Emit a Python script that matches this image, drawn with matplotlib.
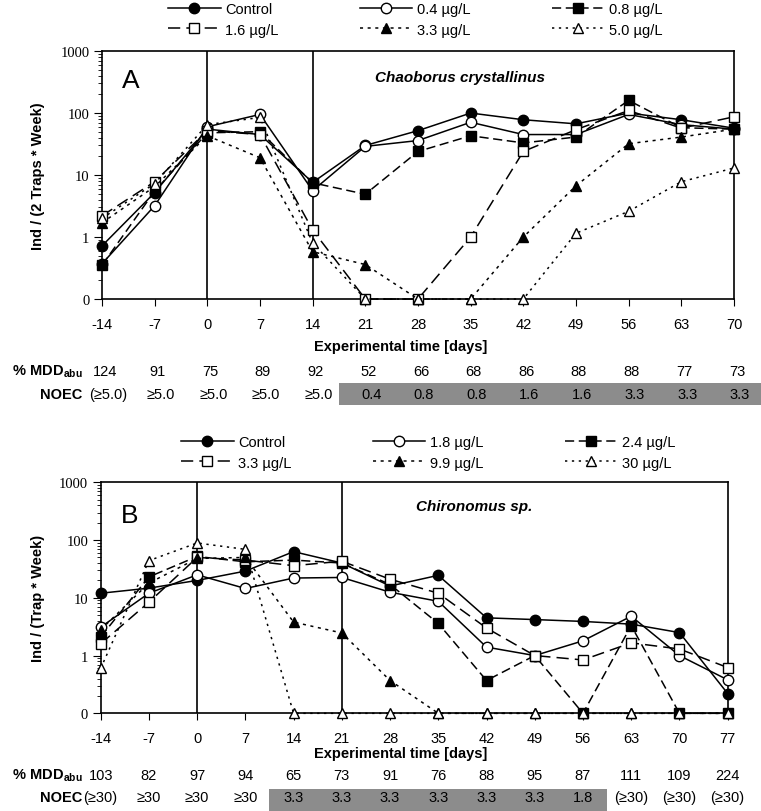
import numpy as np
import matplotlib
matplotlib.use('Agg')
import matplotlib.pyplot as plt
from matplotlib.lines import Line2D
from matplotlib.patches import Rectangle
from matplotlib.ticker import NullFormatter
import matplotlib.transforms as mtransforms

plt.rcParams['font.family'] = ['Liberation Sans', 'DejaVu Sans']
plt.rcParams['mathtext.fontset'] = 'custom'
plt.rcParams['mathtext.rm'] = 'Liberation Sans'
plt.rcParams['mathtext.bf'] = 'Liberation Sans:bold'
plt.rcParams['axes.unicode_minus'] = False

# panel A - Chaoborus crystallinus
days_a = [-14, -7, 0, 7, 14, 21, 28, 35, 42, 49, 56, 63, 70]
labels_a = ['Control', '0.4 µg/L', '0.8 µg/L', '1.6 µg/L', '3.3 µg/L', '5.0 µg/L']
ctrl_a = [0.72, 5.2, 55, 45, 7.6, 30, 52, 100, 78, 67, 100, 78, 57]
c04_a = [0.37, 3.2, 60, 95, 5.6, 29, 36, 71, 45, 45, 95, 65, 55]
c08_a = [0.35, 5.5, 48, 50, 7.5, 4.9, 24, 43, 33, 41, 160, 58, 55]
c16_a = [2.2, 7.8, 52, 45, 1.3, 0, 0, 1.0, 24, 54, 110, 57, 87]
c33_a = [1.7, 6.5, 43, 19, 0.58, 0.36, 0, 0, 1.0, 6.7, 32, 41, 55]
c50_a = [2.0, 7.3, 65, 85, 0.8, 0, 0, 0, 0, 1.15, 2.6, 7.8, 13]
mdd_a = ['124', '91', '75', '89', '92', '52', '66', '68', '86', '88', '88', '77', '73']
noec_a = ['(≥5.0)', '≥5.0', '≥5.0', '≥5.0', '≥5.0', '0.4', '0.8', '0.8', '1.6', '1.6', '3.3', '3.3', '3.3']

# panel B - Chironomus sp.
days_b = [-14, -7, 0, 7, 14, 21, 28, 35, 42, 49, 56, 63, 70, 77]
labels_b = ['Control', '1.8 µg/L', '2.4 µg/L', '3.3 µg/L', '9.9 µg/L', '30 µg/L']
ctrl_b = [12, 14.7, 20, 29, 63, 40, 16, 24.5, 4.5, 4.2, 3.9, 3.5, 2.5, 0.22]
c18_b = [3.1, 12, 25, 14.5, 22, 22.5, 12.5, 8.7, 1.4, 1.0, 1.8, 4.8, 1.0, 0.38]
c24_b = [2.1, 23, 52, 42, 45, 40, 17, 3.6, 0.37, 1.0, 0, 3.3, 0, 0]
c33_b = [1.6, 8.4, 50, 45, 36, 43, 21, 12, 3.0, 1.0, 0.84, 1.66, 1.3, 0.62]
c99_b = [2.8, 18, 48, 50, 3.8, 2.46, 0.37, 0, 0, 0, 0, 0, 0, 0]
c30_b = [0.6, 44, 89, 69, 0, 0, 0, 0, 0, 0, 0, 0, 0, 0]
mdd_b = ['103', '82', '97', '94', '65', '73', '91', '76', '88', '95', '87', '111', '109', '224']
noec_b = ['(≥30)', '≥30', '≥30', '≥30', '3.3', '3.3', '3.3', '3.3', '3.3', '3.3', '1.8', '(≥30)', '(≥30)', '(≥30)']

# line/marker looks for the six treatments
styles = [
    dict(ls='-', marker='o', mfc='black'),
    dict(ls='-', marker='o', mfc='white'),
    dict(ls=(0, (6, 3)), marker='s', mfc='black'),
    dict(ls=(0, (8, 4)), marker='s', mfc='white'),
    dict(ls=(0, (2, 3)), marker='^', mfc='black'),
    dict(ls=(0, (1.5, 3)), marker='^', mfc='white'),
]

fig = plt.figure(figsize=(7.61, 8.12), dpi=100)
ax_a = fig.add_axes([0.1340, 0.6305, 0.8305, 0.3054])
ax_b = fig.add_axes([0.1323, 0.1203, 0.8239, 0.2845])


def draw_panel(ax, days, series, labels, vlines, letter, species, sp_x, let_y, ylabel):
    for vx in vlines:
        ax.axvline(vx, color='black', lw=1.2, zorder=1)
    handles = []
    for vals, lab, st in zip(series, labels, styles):
        y = np.array(vals, dtype=float)
        y[y == 0] = 0.1  # zero is drawn on the bottom of the log axis
        ax.plot(days, y, color='black', lw=1.1, ms=7.5, mec='black', mew=1.0,
                clip_on=False, zorder=3, **st)
        handles.append(Line2D([], [], color='black', lw=1.1, ms=7.5, mec='black',
                              mew=1.0, label=lab, **st))
    ax.set_yscale('log')
    ax.set_ylim(0.1, 1000)
    ax.set_xlim(days[0], days[-1])
    ax.set_yticks([0.1, 1, 10, 100, 1000], ['0', '1', '10', '100', '1000'],
                  family='Liberation Serif', fontsize=10.5)
    ax.yaxis.set_minor_formatter(NullFormatter())
    ax.set_xticks(days)
    ax.tick_params(axis='x', length=5, pad=8, labelsize=10.5)
    ax.tick_params(axis='y', which='major', length=6, pad=3)
    ax.tick_params(axis='y', which='minor', length=3)
    for s in ax.spines.values():
        s.set_linewidth(1.2)
    ax.text(0.032, let_y, letter, transform=ax.transAxes, fontsize=19,
            ha='left', va='center')
    ax.text(sp_x, 0.897, species, transform=ax.transAxes, fontsize=11,
            fontweight='bold', style='italic', ha='left', va='center')
    ax.set_ylabel(ylabel, fontsize=10.5, fontweight='bold')
    return handles


def draw_table(ax, days, mdd, noec, y_lab, y_mdd, y_noec, box_from, box_to, y_box, shift):
    tr = mtransforms.blended_transform_factory(ax.transData, fig.transFigure)
    fig.text(0.527, y_lab, 'Experimental time [days]', fontsize=10.5,
             fontweight='bold', ha='center', va='center')
    fig.text(0.109, y_mdd, r'$\mathbf{\%\ MDD_{abu}}$', fontsize=10.5,
             ha='right', va='center')
    fig.text(0.108, y_noec, 'NOEC', fontsize=10.5, fontweight='bold',
             ha='right', va='center')
    for d, m, n in zip(days, mdd, noec):
        ax.text(d + shift / 2, y_mdd, m, transform=tr, fontsize=10.5, ha='center',
                va='center', clip_on=False)
        ax.text(d + shift, y_noec, n, transform=tr, fontsize=10.5, ha='center',
                va='center', clip_on=False)
    ax.add_patch(Rectangle((box_from, y_box), box_to - box_from, 0.027,
                           transform=tr, facecolor='#8c8c8c', edgecolor='none',
                           clip_on=False, zorder=0))


h_a = draw_panel(ax_a, days_a, [ctrl_a, c04_a, c08_a, c16_a, c33_a, c50_a], labels_a,
                 [0, 14], 'A', 'Chaoborus crystallinus', 0.432, 0.883,
                 'Ind / (2 Traps * Week)')
h_b = draw_panel(ax_b, days_b, [ctrl_b, c18_b, c24_b, c33_b, c99_b, c30_b], labels_b,
                 [0, 21], 'B', 'Chironomus sp.', 0.503, 0.858,
                 'Ind / (Trap * Week)')
ax_a.yaxis.set_label_coords(-0.090, 0.5)
ax_b.yaxis.set_label_coords(-0.089, 0.5)

draw_table(ax_a, days_a, mdd_a, noec_a, 0.5727, 0.5422, 0.5135, 17.5, 73.7, 0.500, 0.8)
draw_table(ax_b, days_b, mdd_b, noec_b, 0.0714, 0.0443, 0.0172, 10.5, 59.5, 0.0, 0.0)

# legends read row by row, matplotlib fills columns first
order = [0, 3, 1, 4, 2, 5]
for h, y0, x0 in [(h_a, 1 - 3 / 812, 168 / 761), (h_b, 1 - 436 / 812, 181 / 761)]:
    fig.legend([h[i] for i in order], [h[i].get_label() for i in order],
               ncol=3, loc='upper left', bbox_to_anchor=(x0, y0), frameon=False,
               fontsize=10.5, handlelength=3.6, handletextpad=0.3,
               columnspacing=5.6, labelspacing=0.45, borderpad=0,
               borderaxespad=0)

fig.savefig('out.png', dpi=100)
